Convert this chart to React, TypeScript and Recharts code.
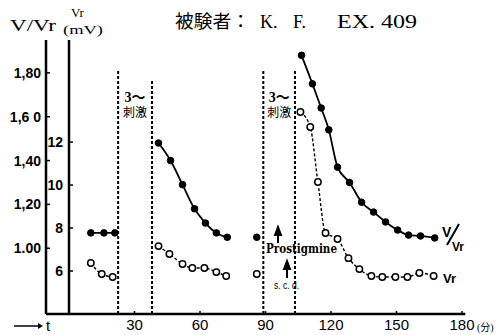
import React from "react";
import {
  ComposedChart,
  Line,
  XAxis,
  YAxis,
  ReferenceLine,
  ReferenceArea,
} from "recharts";

// time (min) and V/Vr (filled dots, solid line); null = gap between runs
const ratioTimes = [10, 16, 21, 30, 41, 46.5, 52, 57.5, 62.5, 67.5, 72.5, 80, 86, 95, 106.5, 111.5, 115.5, 119, 123, 128.5, 134, 139.5, 145, 150.5, 155.5, 161, 167.5];
const ratioValues = [1.07, 1.07, 1.07, null, 1.48, 1.4, 1.29, 1.18, 1.115, 1.07, 1.05, null, 1.05, null, 1.88, 1.75, 1.64, 1.54, 1.37, 1.3, 1.21, 1.165, 1.12, 1.083, 1.06, 1.056, 1.047];

// time (min) and Vr in mV (open circles, dashed line)
const vrTimes = [10, 15, 20, 30, 41, 46, 52, 56.5, 62, 67.5, 72, 80, 86, 95, 106, 110.5, 114, 117.5, 123, 128, 133, 138.5, 143.5, 149.5, 155, 160.5, 167];
const vrValues = [6.37, 5.86, 5.72, null, 7.16, 6.79, 6.33, 6.14, 6.14, 5.95, 5.77, null, 5.86, null, 13.4, 12.7, 10.14, 7.77, 7.49, 6.6, 6.09, 5.77, 5.72, 5.72, 5.72, 5.91, 5.77];

const timeTicks = [30, 60, 90, 120, 150, 180];
const ratioTicks = [1.0, 1.2, 1.4, 1.6, 1.8];
const ratioTickLabels = ["1.00", "1,20", "1,40", "1,6 0", "1,80"];
const vrTicks = [6, 8, 10, 12];

// stimulation windows: start/end time and top of each dashed line (V/Vr units)
const stimStart = [22.5, 89];
const stimEnd = [38, 103.5];
const stimStartTop = [1.81, 1.81];
const stimEndTop = [1.77, 1.81];

const ratioData = ratioTimes.map((t, i) => ({ t, ratio: ratioValues[i] }));
const vrData = vrTimes.map((t, i) => ({ t, vr: vrValues[i] }));

const tickFont = "'Liberation Sans', Arial, sans-serif";
const serif = "'Liberation Serif', 'Noto Sans CJK JP', serif";

const FilledDot = (p: any) =>
  p.cy == null || p.value == null ? (
    <g key={p.index} />
  ) : (
    <circle key={p.index} cx={p.cx} cy={p.cy} r={3.3} fill="#000" stroke="#000" strokeWidth={1} />
  );

const OpenDot = (p: any) =>
  p.cy == null || p.value == null ? (
    <g key={p.index} />
  ) : (
    <circle key={p.index} cx={p.cx} cy={p.cy} r={3.2} fill="#fff" stroke="#000" strokeWidth={1.5} />
  );

const StimLabel = ({ viewBox }: any) => {
  if (!viewBox) return null;
  const cx = viewBox.x + viewBox.width / 2;
  return (
    <g fontFamily={serif} fill="#000">
      <text x={cx} y={viewBox.y + 62} fontSize={14} fontWeight="bold" textAnchor="middle">
        3〜
      </text>
      <text x={cx} y={viewBox.y + 77} fontSize={12} textAnchor="middle">
        刺激
      </text>
    </g>
  );
};

export default function App() {
  return (
    <div style={{ position: "absolute", left: 0, top: 0, width: 503, height: 335, background: "#fff" }}>
      <ComposedChart width={503} height={335} margin={{ top: 40, right: 41, left: 8, bottom: 0 }}>
        <XAxis
          dataKey="t"
          type="number"
          domain={[0, 180]}
          ticks={timeTicks}
          allowDataOverflow
          axisLine={false}
          height={21}
          tickSize={-3}
          tickMargin={8}
          tickLine={{ stroke: "#000", strokeWidth: 1.5 }}
          tick={{ fill: "#000", fontSize: 15, fontFamily: tickFont }}
        />
        <YAxis
          yAxisId="vr"
          orientation="left"
          width={23}
          domain={[4, 16.75]}
          ticks={vrTicks}
          allowDataOverflow
          axisLine={{ stroke: "#000", strokeWidth: 2.5 }}
          tickSize={-4}
          tickMargin={10}
          tickLine={{ stroke: "#000", strokeWidth: 1.5 }}
          tick={{ fill: "#000", fontSize: 14, fontWeight: "bold", fontFamily: tickFont }}
        />
        <YAxis
          yAxisId="vv"
          orientation="left"
          width={38}
          domain={[0.7, 1.95]}
          ticks={ratioTicks}
          allowDataOverflow
          axisLine={{ stroke: "#000", strokeWidth: 2.5 }}
          tickSize={-4}
          tickMargin={9}
          tickLine={{ stroke: "#000", strokeWidth: 1.5 }}
          tickFormatter={(v: number) => ratioTickLabels[ratioTicks.indexOf(v)] ?? String(v)}
          tick={{ fill: "#000", fontSize: 14, fontWeight: "bold", fontFamily: tickFont }}
        />
        <ReferenceLine
          yAxisId="vv"
          segment={[{ x: -10.5, y: 0.7 }, { x: 181.5, y: 0.7 }]}
          stroke="#000"
          strokeWidth={2.5}
          ifOverflow="visible"
        />
        {stimStart.map((s, i) => (
          <ReferenceLine
            key={`s${i}`}
            yAxisId="vv"
            segment={[{ x: s, y: 0.7 }, { x: s, y: stimStartTop[i] }]}
            stroke="#000"
            strokeWidth={2}
            strokeDasharray="3 2"
            ifOverflow="visible"
          />
        ))}
        {stimEnd.map((s, i) => (
          <ReferenceLine
            key={`e${i}`}
            yAxisId="vv"
            segment={[{ x: s, y: 0.7 }, { x: s, y: stimEndTop[i] }]}
            stroke="#000"
            strokeWidth={2}
            strokeDasharray="3 2"
            ifOverflow="visible"
          />
        ))}
        {stimStart.map((s, i) => (
          <ReferenceArea
            key={`a${i}`}
            yAxisId="vv"
            x1={s}
            x2={stimEnd[i]}
            y1={0.7}
            y2={1.95}
            fill="none"
            stroke="none"
            label={<StimLabel />}
          />
        ))}
        <Line
          yAxisId="vr"
          data={vrData}
          dataKey="vr"
          type="monotone"
          stroke="#000"
          strokeWidth={1.4}
          strokeDasharray="3 2"
          dot={OpenDot}
          activeDot={false}
          connectNulls={false}
          isAnimationActive={false}
        />
        <Line
          yAxisId="vv"
          data={ratioData}
          dataKey="ratio"
          type="monotone"
          stroke="#000"
          strokeWidth={1.8}
          dot={FilledDot}
          activeDot={false}
          connectNulls={false}
          isAnimationActive={false}
        />
      </ComposedChart>
      <svg
        width={503}
        height={335}
        style={{ position: "absolute", left: 0, top: 0, pointerEvents: "none" }}
      >
        <g fontFamily={serif} fill="#000">
          <text x={175} y={28} fontSize={18} textLength={75} lengthAdjust="spacingAndGlyphs">
            被験者：
          </text>
          <text x={260} y={28} fontSize={18}>K.</text>
          <text x={293} y={28} fontSize={18}>F.</text>
          <text x={337} y={28} fontSize={18} textLength={80} lengthAdjust="spacingAndGlyphs">
            EX. 409
          </text>
          <text x={10} y={31} fontSize={17} textLength={46} lengthAdjust="spacingAndGlyphs">
            V/Vr
          </text>
          <text x={71} y={17} fontSize={13}>Vr</text>
          <text x={63} y={34} fontSize={13} textLength={40} lengthAdjust="spacingAndGlyphs">
            (mV)
          </text>
          <text x={477} y={331} fontSize={10}>(分)</text>
        </g>
        {/* time arrow */}
        <line x1={14} y1={326} x2={38} y2={326} stroke="#000" strokeWidth={1.5} />
        <path d="M38,323 L43,326 L38,329 Z" fill="#000" />
        <text x={46} y={331} fontSize={15} fontFamily={tickFont} fill="#000">t</text>
        {/* drug annotations */}
        <path d="M278,243 L278,234 M275,235 L278,227 L281,235 Z" stroke="#000" strokeWidth={2} fill="#000" />
        <text
          x={266}
          y={253}
          fontSize={12}
          fontWeight="bold"
          fontFamily="'DejaVu Serif', serif"
          textLength={71}
          lengthAdjust="spacingAndGlyphs"
        >
          Prostigmine
        </text>
        <path d="M287,278 L287,268 M284,269 L287,261 L290,269 Z" stroke="#000" strokeWidth={2} fill="#000" />
        <text x={274} y={289} fontSize={10} fontFamily={tickFont} textLength={25} lengthAdjust="spacingAndGlyphs">
          s. c. d.
        </text>
        {/* series labels */}
        <g fontFamily={tickFont} fontWeight="bold" fill="#000">
          <text x={442} y={237} fontSize={14}>V</text>
          <line x1={459} y1={224} x2={447} y2={245} stroke="#000" strokeWidth={2} />
          <text x={452} y={251} fontSize={12}>Vr</text>
          <text x={443} y={283} fontSize={13}>Vr</text>
        </g>
      </svg>
    </div>
  );
}
